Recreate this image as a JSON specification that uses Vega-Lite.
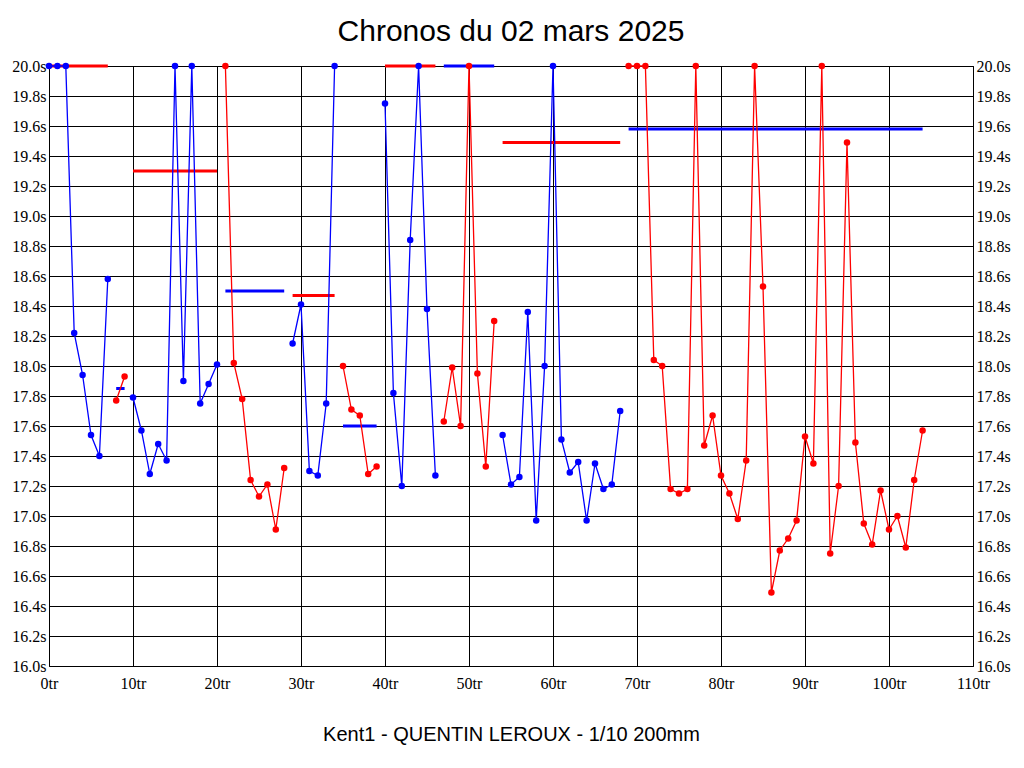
{
  "$schema": "https://vega.github.io/schema/vega-lite/v6.json",
  "width": 924,
  "height": 600,
  "autosize": {"type": "none"},
  "padding": {"left": 49, "top": 66, "right": 51, "bottom": 102},
  "background": "white",
  "title": {"text": "Chronos du 02 mars 2025", "font": "Liberation Sans", "fontSize": 30, "fontWeight": "normal", "color": "black", "anchor": "middle", "offset": 11},
  "datasets": {
    "pts": [
      {"tour": 0, "temps": 20.0, "seg": 1, "groupe": "A"},
      {"tour": 1, "temps": 20.0, "seg": 1, "groupe": "A"},
      {"tour": 2, "temps": 20.0, "seg": 1, "groupe": "A"},
      {"tour": 3, "temps": 18.22, "seg": 1, "groupe": "A"},
      {"tour": 4, "temps": 17.94, "seg": 1, "groupe": "A"},
      {"tour": 5, "temps": 17.54, "seg": 1, "groupe": "A"},
      {"tour": 6, "temps": 17.40, "seg": 1, "groupe": "A"},
      {"tour": 7, "temps": 18.58, "seg": 1, "groupe": "A"},
      {"tour": 8, "temps": 17.77, "seg": 2, "groupe": "B"},
      {"tour": 9, "temps": 17.93, "seg": 2, "groupe": "B"},
      {"tour": 10, "temps": 17.79, "seg": 3, "groupe": "A"},
      {"tour": 11, "temps": 17.57, "seg": 3, "groupe": "A"},
      {"tour": 12, "temps": 17.28, "seg": 3, "groupe": "A"},
      {"tour": 13, "temps": 17.48, "seg": 3, "groupe": "A"},
      {"tour": 14, "temps": 17.37, "seg": 3, "groupe": "A"},
      {"tour": 15, "temps": 20.0, "seg": 3, "groupe": "A"},
      {"tour": 16, "temps": 17.90, "seg": 3, "groupe": "A"},
      {"tour": 17, "temps": 20.0, "seg": 3, "groupe": "A"},
      {"tour": 18, "temps": 17.75, "seg": 3, "groupe": "A"},
      {"tour": 19, "temps": 17.88, "seg": 3, "groupe": "A"},
      {"tour": 20, "temps": 18.01, "seg": 3, "groupe": "A"},
      {"tour": 21, "temps": 20.0, "seg": 4, "groupe": "B"},
      {"tour": 22, "temps": 18.02, "seg": 4, "groupe": "B"},
      {"tour": 23, "temps": 17.78, "seg": 4, "groupe": "B"},
      {"tour": 24, "temps": 17.24, "seg": 4, "groupe": "B"},
      {"tour": 25, "temps": 17.13, "seg": 4, "groupe": "B"},
      {"tour": 26, "temps": 17.21, "seg": 4, "groupe": "B"},
      {"tour": 27, "temps": 16.91, "seg": 4, "groupe": "B"},
      {"tour": 28, "temps": 17.32, "seg": 4, "groupe": "B"},
      {"tour": 29, "temps": 18.15, "seg": 5, "groupe": "A"},
      {"tour": 30, "temps": 18.41, "seg": 5, "groupe": "A"},
      {"tour": 31, "temps": 17.30, "seg": 5, "groupe": "A"},
      {"tour": 32, "temps": 17.27, "seg": 5, "groupe": "A"},
      {"tour": 33, "temps": 17.75, "seg": 5, "groupe": "A"},
      {"tour": 34, "temps": 20.0, "seg": 5, "groupe": "A"},
      {"tour": 35, "temps": 18.00, "seg": 6, "groupe": "B"},
      {"tour": 36, "temps": 17.71, "seg": 6, "groupe": "B"},
      {"tour": 37, "temps": 17.67, "seg": 6, "groupe": "B"},
      {"tour": 38, "temps": 17.28, "seg": 6, "groupe": "B"},
      {"tour": 39, "temps": 17.33, "seg": 6, "groupe": "B"},
      {"tour": 40, "temps": 19.75, "seg": 7, "groupe": "A"},
      {"tour": 41, "temps": 17.82, "seg": 7, "groupe": "A"},
      {"tour": 42, "temps": 17.20, "seg": 7, "groupe": "A"},
      {"tour": 43, "temps": 18.84, "seg": 7, "groupe": "A"},
      {"tour": 44, "temps": 20.0, "seg": 7, "groupe": "A"},
      {"tour": 45, "temps": 18.38, "seg": 7, "groupe": "A"},
      {"tour": 46, "temps": 17.27, "seg": 7, "groupe": "A"},
      {"tour": 47, "temps": 17.63, "seg": 8, "groupe": "B"},
      {"tour": 48, "temps": 17.99, "seg": 8, "groupe": "B"},
      {"tour": 49, "temps": 17.60, "seg": 8, "groupe": "B"},
      {"tour": 50, "temps": 20.0, "seg": 8, "groupe": "B"},
      {"tour": 51, "temps": 17.95, "seg": 8, "groupe": "B"},
      {"tour": 52, "temps": 17.33, "seg": 8, "groupe": "B"},
      {"tour": 53, "temps": 18.30, "seg": 8, "groupe": "B"},
      {"tour": 54, "temps": 17.54, "seg": 9, "groupe": "A"},
      {"tour": 55, "temps": 17.21, "seg": 9, "groupe": "A"},
      {"tour": 56, "temps": 17.26, "seg": 9, "groupe": "A"},
      {"tour": 57, "temps": 18.36, "seg": 9, "groupe": "A"},
      {"tour": 58, "temps": 16.97, "seg": 9, "groupe": "A"},
      {"tour": 59, "temps": 18.00, "seg": 9, "groupe": "A"},
      {"tour": 60, "temps": 20.0, "seg": 9, "groupe": "A"},
      {"tour": 61, "temps": 17.51, "seg": 9, "groupe": "A"},
      {"tour": 62, "temps": 17.29, "seg": 9, "groupe": "A"},
      {"tour": 63, "temps": 17.36, "seg": 9, "groupe": "A"},
      {"tour": 64, "temps": 16.97, "seg": 9, "groupe": "A"},
      {"tour": 65, "temps": 17.35, "seg": 9, "groupe": "A"},
      {"tour": 66, "temps": 17.18, "seg": 9, "groupe": "A"},
      {"tour": 67, "temps": 17.21, "seg": 9, "groupe": "A"},
      {"tour": 68, "temps": 17.70, "seg": 9, "groupe": "A"},
      {"tour": 69, "temps": 20.0, "seg": 10, "groupe": "B"},
      {"tour": 70, "temps": 20.0, "seg": 10, "groupe": "B"},
      {"tour": 71, "temps": 20.0, "seg": 10, "groupe": "B"},
      {"tour": 72, "temps": 18.04, "seg": 10, "groupe": "B"},
      {"tour": 73, "temps": 18.00, "seg": 10, "groupe": "B"},
      {"tour": 74, "temps": 17.18, "seg": 10, "groupe": "B"},
      {"tour": 75, "temps": 17.15, "seg": 10, "groupe": "B"},
      {"tour": 76, "temps": 17.18, "seg": 10, "groupe": "B"},
      {"tour": 77, "temps": 20.0, "seg": 10, "groupe": "B"},
      {"tour": 78, "temps": 17.47, "seg": 10, "groupe": "B"},
      {"tour": 79, "temps": 17.67, "seg": 10, "groupe": "B"},
      {"tour": 80, "temps": 17.27, "seg": 10, "groupe": "B"},
      {"tour": 81, "temps": 17.15, "seg": 10, "groupe": "B"},
      {"tour": 82, "temps": 16.98, "seg": 10, "groupe": "B"},
      {"tour": 83, "temps": 17.37, "seg": 10, "groupe": "B"},
      {"tour": 84, "temps": 20.0, "seg": 10, "groupe": "B"},
      {"tour": 85, "temps": 18.53, "seg": 10, "groupe": "B"},
      {"tour": 86, "temps": 16.49, "seg": 10, "groupe": "B"},
      {"tour": 87, "temps": 16.77, "seg": 10, "groupe": "B"},
      {"tour": 88, "temps": 16.85, "seg": 10, "groupe": "B"},
      {"tour": 89, "temps": 16.97, "seg": 10, "groupe": "B"},
      {"tour": 90, "temps": 17.53, "seg": 10, "groupe": "B"},
      {"tour": 91, "temps": 17.35, "seg": 10, "groupe": "B"},
      {"tour": 92, "temps": 20.0, "seg": 10, "groupe": "B"},
      {"tour": 93, "temps": 16.75, "seg": 10, "groupe": "B"},
      {"tour": 94, "temps": 17.20, "seg": 10, "groupe": "B"},
      {"tour": 95, "temps": 19.49, "seg": 10, "groupe": "B"},
      {"tour": 96, "temps": 17.49, "seg": 10, "groupe": "B"},
      {"tour": 97, "temps": 16.95, "seg": 10, "groupe": "B"},
      {"tour": 98, "temps": 16.81, "seg": 10, "groupe": "B"},
      {"tour": 99, "temps": 17.17, "seg": 10, "groupe": "B"},
      {"tour": 100, "temps": 16.91, "seg": 10, "groupe": "B"},
      {"tour": 101, "temps": 17.00, "seg": 10, "groupe": "B"},
      {"tour": 102, "temps": 16.79, "seg": 10, "groupe": "B"},
      {"tour": 103, "temps": 17.24, "seg": 10, "groupe": "B"},
      {"tour": 104, "temps": 17.57, "seg": 10, "groupe": "B"}
    ],
    "moyennes": [
      {"debut": 0, "fin": 7, "moyenne": 20.0, "groupe": "B"},
      {"debut": 8, "fin": 9, "moyenne": 17.85, "groupe": "A"},
      {"debut": 10, "fin": 20, "moyenne": 19.30, "groupe": "B"},
      {"debut": 21, "fin": 28, "moyenne": 18.50, "groupe": "A"},
      {"debut": 29, "fin": 34, "moyenne": 18.47, "groupe": "B"},
      {"debut": 35, "fin": 39, "moyenne": 17.60, "groupe": "A"},
      {"debut": 40, "fin": 46, "moyenne": 20.0, "groupe": "B"},
      {"debut": 47, "fin": 53, "moyenne": 20.0, "groupe": "A"},
      {"debut": 54, "fin": 68, "moyenne": 19.49, "groupe": "B"},
      {"debut": 69, "fin": 104, "moyenne": 19.58, "groupe": "A"}
    ]
  },
  "layer": [
    {
      "data": {"name": "moyennes"},
      "mark": {"type": "rule", "strokeWidth": 3},
      "encoding": {
        "x": {"field": "debut", "type": "quantitative", "scale": {"domain": [0, 110], "nice": false, "zero": false},
          "axis": {"values": [0, 10, 20, 30, 40, 50, 60, 70, 80, 90, 100, 110], "labelExpr": "datum.value + 'tr'", "title": "Kent1 - QUENTIN LEROUX - 1/10 200mm", "labelPadding": 9, "titlePadding": 33}},
        "x2": {"field": "fin"},
        "y": {"field": "moyenne", "type": "quantitative", "scale": {"domain": [16, 20], "nice": false, "zero": false},
          "axis": {"orient": "left", "values": [16, 16.2, 16.4, 16.6, 16.8, 17, 17.2, 17.4, 17.6, 17.8, 18, 18.2, 18.4, 18.6, 18.8, 19, 19.2, 19.4, 19.6, 19.8, 20], "labelExpr": "format(datum.value, '.1f') + 's'", "title": null, "labelPadding": 3}},
        "color": {"field": "groupe", "type": "nominal", "scale": {"domain": ["A", "B"], "range": ["#0000ff", "#ff0000"]}, "legend": null}
      }
    },
    {
      "data": {"name": "pts"},
      "mark": {"type": "line", "strokeWidth": 1.3},
      "encoding": {
        "x": {"field": "tour", "type": "quantitative"},
        "y": {"field": "temps", "type": "quantitative", "axis": null},
        "detail": {"field": "seg", "type": "nominal"},
        "color": {"field": "groupe", "type": "nominal", "legend": null}
      }
    },
    {
      "data": {"name": "pts"},
      "mark": {"type": "circle", "size": 42, "opacity": 1},
      "encoding": {
        "x": {"field": "tour", "type": "quantitative"},
        "y": {"field": "temps", "type": "quantitative",
          "axis": {"orient": "right", "values": [16, 16.2, 16.4, 16.6, 16.8, 17, 17.2, 17.4, 17.6, 17.8, 18, 18.2, 18.4, 18.6, 18.8, 19, 19.2, 19.4, 19.6, 19.8, 20], "labelExpr": "format(datum.value, '.1f') + 's'", "title": null, "grid": false, "labelPadding": 3}},
        "color": {"field": "groupe", "type": "nominal", "legend": null}
      }
    }
  ],
  "resolve": {"axis": {"y": "independent"}},
  "config": {
    "view": {"stroke": "black", "strokeWidth": 1},
    "axis": {
      "domain": false,
      "ticks": false,
      "grid": true,
      "gridColor": "black",
      "gridOpacity": 1,
      "gridWidth": 1,
      "labelFlush": false,
      "labelFont": "Liberation Sans Narrow",
      "labelFontSize": 16,
      "labelColor": "black",
      "titleFont": "Liberation Sans",
      "titleFontSize": 20,
      "titleFontWeight": "normal",
      "titleColor": "black"
    }
  }
}
